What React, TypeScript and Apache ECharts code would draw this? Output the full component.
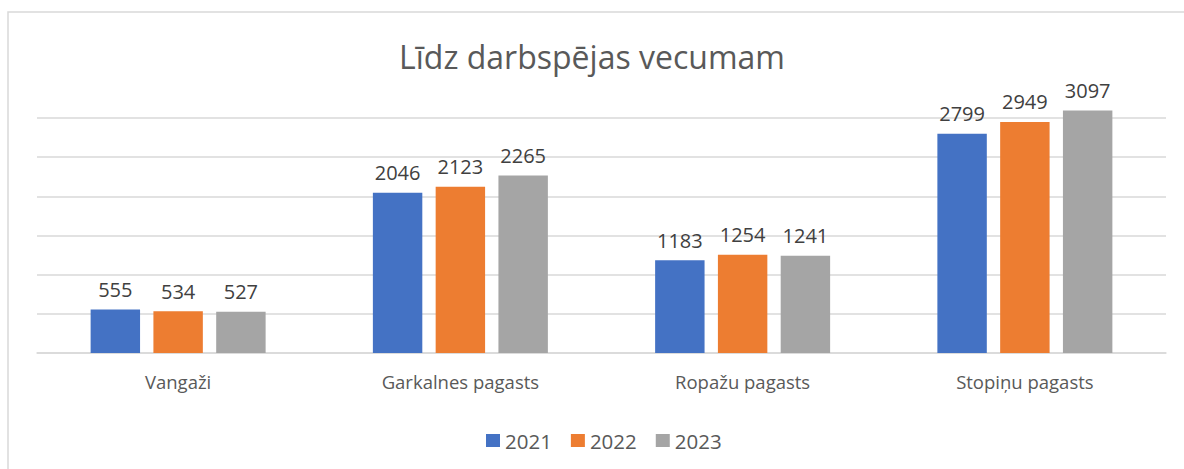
import React, { useEffect, useRef } from "react";
import * as echarts from "echarts";

const categories = ["Vangaži", "Garkalnes pagasts", "Ropažu pagasts", "Stopiņu pagasts"];
const seriesNames = ["2021", "2022", "2023"];
const values2021 = [555, 2046, 1183, 2799];
const values2022 = [534, 2123, 1254, 2949];
const values2023 = [527, 2265, 1241, 3097];
const colors = ["#4472C4", "#ED7D31", "#A5A5A5"];

export default function App() {
  const ref = useRef<HTMLDivElement>(null);
  useEffect(() => {
    if (!ref.current) return;
    const chart = echarts.init(ref.current, null, { renderer: "svg" });
    const font = "'Open Sans', 'Noto Sans', sans-serif";
    const all = [values2021, values2022, values2023];
    chart.setOption({
      animation: false,
      textStyle: { fontFamily: font },
      title: {
        text: "Līdz darbspējas vecumam",
        left: "center",
        top: 35,
        textStyle: { fontFamily: font, fontSize: 32, fontWeight: "normal", color: "#595959" },
      },
      graphic: [
        {
          type: "rect",
          shape: { x: 8, y: 12, width: 1200, height: 500 },
          style: { fill: "none", stroke: "#d9d9d9", lineWidth: 1.5 },
          silent: true,
        },
      ],
      legend: {
        top: 425,
        left: 481,
        itemWidth: 14,
        itemHeight: 13,
        itemGap: 19,
        icon: "rect",
        textStyle: { fontFamily: font, fontSize: 20.5, color: "#595959" },
        data: seriesNames,
      },
      grid: { left: 37, right: 18, top: 118, bottom: 116 },
      xAxis: {
        type: "category",
        data: categories,
        axisLine: { lineStyle: { color: "#d9d9d9", width: 1.5 } },
        axisTick: { show: false },
        axisLabel: { fontFamily: font, fontSize: 18.5, color: "#595959", margin: 19 },
      },
      yAxis: {
        type: "value",
        min: 0,
        max: 3000,
        interval: 500,
        axisLine: { show: false },
        axisTick: { show: false },
        axisLabel: { show: false },
        splitLine: { lineStyle: { color: "#d9d9d9", width: 1.5 } },
      },
      series: seriesNames.map((name, i) => ({
        name,
        type: "bar",
        data: all[i],
        clip: false,
        barGap: "27%",
        barCategoryGap: "38%",
        itemStyle: { color: colors[i] },
        label: {
          show: true,
          position: "top",
          distance: 10,
          fontFamily: font,
          fontSize: 20,
          color: "#404040",
        },
      })),
    });
    return () => chart.dispose();
  }, []);
  return (
    <div
      ref={ref}
      style={{ position: "absolute", left: 0, top: 0, width: 1184, height: 469 }}
    />
  );
}
